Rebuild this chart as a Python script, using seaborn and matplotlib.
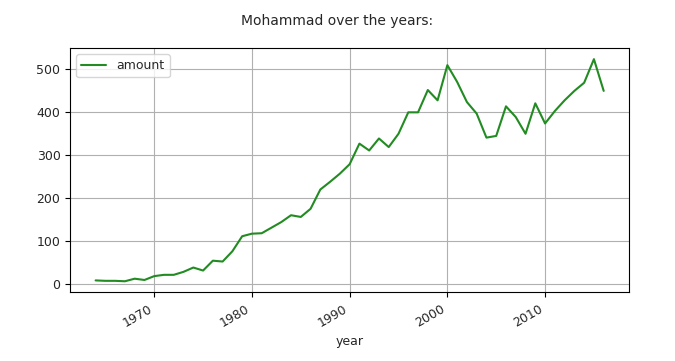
import seaborn as sns
import matplotlib
matplotlib.use('Agg')
import matplotlib.pyplot as plt
import pandas as pd

years = [1964, 1965, 1966, 1967, 1968, 1969, 1970, 1971, 1972, 1973, 1974, 1975,
         1976, 1977, 1978, 1979, 1980, 1981, 1982, 1983, 1984, 1985, 1986, 1987,
         1988, 1989, 1990, 1991, 1992, 1993, 1994, 1995, 1996, 1997, 1998, 1999,
         2000, 2001, 2002, 2003, 2004, 2005, 2006, 2007, 2008, 2009, 2010, 2011,
         2012, 2013, 2014, 2015, 2016]
amount = [8, 7, 7, 6, 12, 9, 18, 21, 21, 28, 38, 31,
          54, 52, 76, 111, 117, 118, 131, 144, 160, 156, 175, 220,
          238, 257, 279, 327, 311, 339, 319, 350, 400, 400, 452, 428,
          510, 471, 424, 397, 341, 345, 414, 389, 350, 421, 374, 403,
          428, 450, 469, 524, 450]

df = pd.DataFrame({'year': years, 'amount': amount})

sns.set_style('ticks')
plt.rcParams['font.family'] = ['DejaVu Sans']

fig, ax = plt.subplots(figsize=(6.75, 3.61), dpi=100)
sns.lineplot(data=df, x='year', y='amount', color='forestgreen', linewidth=1.5,
             label='amount', ax=ax)
ax.set_xlim(1961.4, 2018.6)
ax.set_ylim(-20, 550)
ax.set_xticks([1970, 1980, 1990, 2000, 2010])
ax.set_ylabel('')
ax.set_xlabel('year', fontsize=9)
ax.tick_params(labelsize=9, color='black')
for s in ax.spines.values():
    s.set_color('black')
    s.set_linewidth(0.8)
ax.grid(True, color='#b0b0b0', linewidth=0.8)
plt.setp(ax.get_xticklabels(), rotation=30, ha='right')
ax.legend(loc='upper left', fontsize=9)
fig.suptitle('Mohammad over the years:', fontsize=10, y=0.96)
fig.subplots_adjust(left=0.104, right=0.932, top=0.867, bottom=0.19)

plt.savefig('out.png', dpi=100)
